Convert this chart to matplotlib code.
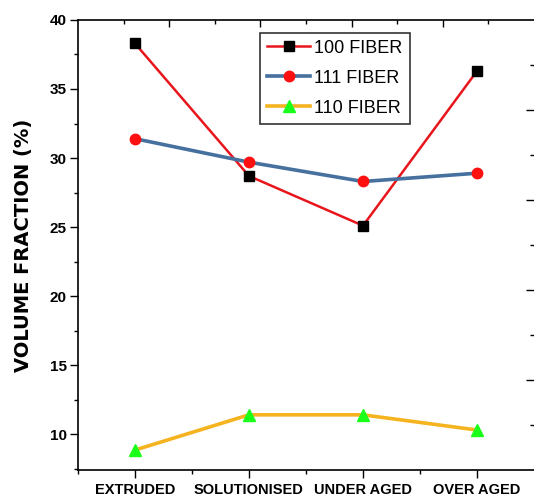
import matplotlib
matplotlib.use("Agg")
import matplotlib.pyplot as plt
from matplotlib.ticker import MultipleLocator, FixedLocator, NullFormatter

categories = ["EXTRUDED", "SOLUTIONISED", "UNDER AGED", "OVER AGED"]
fiber_100 = [38.3, 28.7, 25.1, 36.3]
fiber_111 = [31.4, 29.7, 28.3, 28.9]
fiber_110 = [8.85, 11.4, 11.4, 10.3]
y_ticks = [10, 15, 20, 25, 30, 35, 40]

tick_font = "Liberation Sans"

fig = plt.figure(figsize=(5.34, 4.99), dpi=100)
ax = fig.add_axes([0.146, 0.058, 0.854, 0.902])

x = list(range(len(categories)))
ax.plot(x, fiber_100, color="#e8161c", lw=1.8, marker="s", ms=6.5,
        mfc="black", mec="black", label="100 FIBER", zorder=3)
ax.plot(x, fiber_111, color="#46709e", lw=2.6, marker="o", ms=7.5,
        mfc="#ff1010", mec="#ff1010", label="111 FIBER", zorder=3)
ax.plot(x, fiber_110, color="#f5b320", lw=2.6, marker="^", ms=8.5,
        mfc="#1aff1a", mec="#1aff1a", label="110 FIBER", zorder=3)

ax.set_xlim(-0.5, 3.5)
ax.set_ylim(7.4, 40)
ax.set_xticks(x)
ax.set_xticklabels(categories, fontfamily=tick_font, fontweight="bold", fontsize=10.5)
ax.xaxis.set_minor_locator(FixedLocator([-0.5, 0.5, 1.5, 2.5]))
ax.set_yticks(y_ticks)
ax.set_yticklabels([str(v) for v in y_ticks], fontfamily=tick_font, fontweight="bold", fontsize=11)
ax.yaxis.set_minor_locator(MultipleLocator(2.5))
ax.tick_params(axis="both", which="major", direction="out", length=6, width=1, pad=2)
ax.tick_params(axis="both", which="minor", direction="out", length=3, width=1)
ax.tick_params(axis="x", which="major", pad=3)
ax.spines["right"].set_visible(False)
for s in ["left", "bottom", "top"]:
    ax.spines[s].set_linewidth(1.2)

ax.set_ylabel("VOLUME FRACTION (%)", fontfamily="DejaVu Sans", fontweight="bold",
              fontsize=14, labelpad=12)

# secondary top axis ticks
axt = ax.twiny()
axt.set_xlim(0, 1)
axt.xaxis.set_major_locator(FixedLocator([0.2, 0.4, 0.6, 0.8]))
axt.xaxis.set_minor_locator(FixedLocator([0.1, 0.3, 0.5, 0.7, 0.9]))
axt.xaxis.set_major_formatter(NullFormatter())
axt.tick_params(axis="x", which="major", direction="in", length=5, width=1)
axt.tick_params(axis="x", which="minor", direction="in", length=3, width=1)
for s in axt.spines.values():
    s.set_visible(False)

# secondary right axis ticks
axr = ax.twinx()
axr.set_ylim(0, 1)
axr.yaxis.set_major_locator(FixedLocator([0.2, 0.4, 0.6, 0.8]))
axr.yaxis.set_minor_locator(FixedLocator([0.1, 0.3, 0.5, 0.7, 0.9]))
axr.yaxis.set_major_formatter(NullFormatter())
axr.tick_params(axis="y", which="major", direction="in", length=6, width=1, pad=0)
axr.tick_params(axis="y", which="minor", direction="in", length=3, width=1)
for s in axr.spines.values():
    s.set_visible(False)
axr.yaxis.set_ticks_position("right")

leg = ax.legend(loc="upper left", bbox_to_anchor=(0.399, 0.972), frameon=True,
                fancybox=False, edgecolor="#333333", framealpha=1,
                prop={"family": "Liberation Sans", "size": 13},
                handlelength=2.4, handletextpad=0.2, borderpad=0.4,
                labelspacing=0.72, borderaxespad=0)
leg.get_frame().set_linewidth(1.2)

fig.savefig("out.png", dpi=100)
